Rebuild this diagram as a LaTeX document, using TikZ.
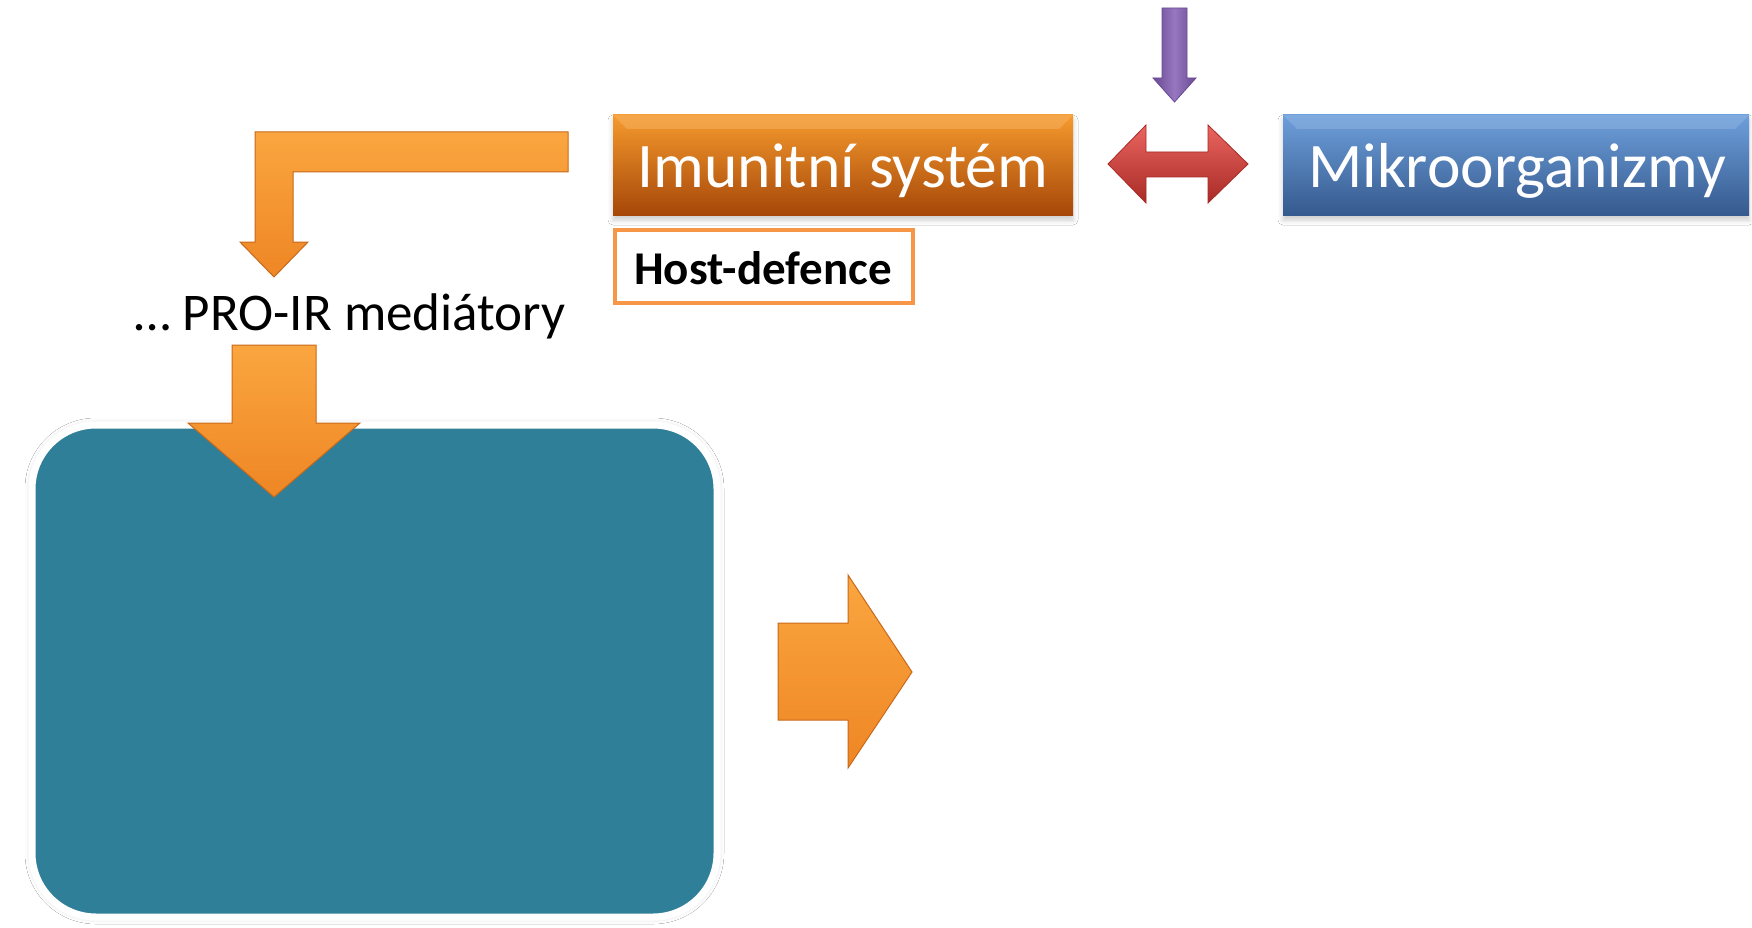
\documentclass[tikz,border=0pt]{standalone}
\usepackage{fontspec}
\setmainfont{Carlito}
\usetikzlibrary{shadows.blur}
\definecolor{orTop}{HTML}{F59A2E}
\definecolor{orMid}{HTML}{DD6D10}
\definecolor{orBot}{HTML}{A64708}
\definecolor{blTop}{HTML}{6E9FDB}
\definecolor{blMid}{HTML}{4474B2}
\definecolor{blBot}{HTML}{355A8E}
\definecolor{teal}{HTML}{2F7F99}
\definecolor{arLight}{HTML}{FAA640}
\definecolor{arDark}{HTML}{EE8624}
\definecolor{arEdge}{HTML}{C8691A}
\definecolor{hostBorder}{HTML}{F79646}
\definecolor{puLight}{HTML}{9677C0}
\definecolor{puDark}{HTML}{6A4A92}
\definecolor{rdLight}{HTML}{EA6560}
\definecolor{rdMid}{HTML}{D7403B}
\definecolor{rdDark}{HTML}{A82A26}
\begin{document}
\begin{tikzpicture}[x=1pt,y=-1pt,
  softshadow/.style={blur shadow={shadow xshift=0pt,shadow yshift=-5pt,shadow blur radius=5pt,shadow opacity=20}},
  orangebox/.style={rectangle,inner sep=0pt,minimum width=460pt,minimum height=100pt,
    top color=orTop,middle color=orMid,bottom color=orBot,softshadow},
  bluebox/.style={rectangle,inner sep=0pt,minimum width=466pt,minimum height=100pt,
    top color=blTop,middle color=blMid,bottom color=blBot,softshadow},
  hostbox/.style={rectangle,inner sep=0pt,minimum width=298pt,minimum height=73pt,
    draw=hostBorder,line width=4pt,fill=white},
  bigtext/.style={text=white,inner sep=0pt,anchor=base,font=\fontsize{63.5}{70}\selectfont},
  hosttext/.style={text=black,inner sep=0pt,anchor=base,font=\fontsize{47}{52}\selectfont\bfseries},
  protext/.style={text=black,inner sep=0pt,anchor=base,font=\fontsize{53}{60}\selectfont},
  blockarrow/.style={top color=arLight,bottom color=arDark,draw=arEdge,line width=1pt,line join=miter},
  purplearrow/.style={left color=puDark,right color=puDark,middle color=puLight,draw=puDark,line width=0.8pt},
  redarrow/.style={top color=rdLight,middle color=rdMid,bottom color=rdDark,draw=rdDark,line width=0.8pt},
  tealbox/.style={rectangle,rounded corners=64pt,inner sep=0pt,minimum width=685pt,minimum height=492pt,
    fill=teal,draw=white,line width=7pt,
    blur shadow={shadow xshift=0pt,shadow yshift=0pt,shadow blur radius=7pt,shadow opacity=18}},
]
\useasboundingbox (0,0) rectangle (1752,928);
\fill[white] (0,0) rectangle (1752,928);

% boxes
\node[orangebox] (imun) at (843,165) {};
\fill[orTop!70!white,opacity=0.45] (imun.north west) -- (imun.north east) -- ++(-14,14) -- ($(imun.north west)+(14,14)$) -- cycle;
\node[bluebox] (mikro) at (1516,165) {};
\fill[blTop!70!white,opacity=0.4] (mikro.north west) -- (mikro.north east) -- ++(-14,14) -- ($(mikro.north west)+(14,14)$) -- cycle;
\node[hostbox] (host) at (764,266.5) {};
\node[tealbox] (teal) at (374.5,671) {};

% texts
\node[bigtext] (imuntext) at (843,187) {Imunitní systém};
\node[bigtext] (mikrotext) at (1517,187) {Mikroorganizmy};
\node[hosttext] (hosttxt) at (763,284) {Host-defence};
\node[protext] (protxt) at (350,330) {… PRO-IR mediátory};

% purple arrow
\path[purplearrow] (1162,8) -- (1187,8) -- (1187,78) -- (1196,78) -- (1174.5,102) -- (1153,78) -- (1162,78) -- cycle;

% red double arrow
\path[redarrow] (1108,164) -- (1146,125) -- (1146,152) -- (1208,152) -- (1208,125) -- (1248,164)
  -- (1208,203) -- (1208,177) -- (1146,177) -- (1146,203) -- cycle;

% L arrow
\path[blockarrow] (568,132) -- (255,132) -- (255,242) -- (240,242) -- (274,277) -- (308,242)
  -- (293,242) -- (293,172) -- (568,172) -- cycle;

% big down arrow
\path[blockarrow] (232,345) -- (316,345) -- (316,423) -- (360,423) -- (274,497) -- (188,423) -- (232,423) -- cycle;

% right arrow
\path[blockarrow] (778,623) -- (848,623) -- (848,575) -- (912,672) -- (848,768) -- (848,720) -- (778,720) -- cycle;
\end{tikzpicture}
\end{document}
